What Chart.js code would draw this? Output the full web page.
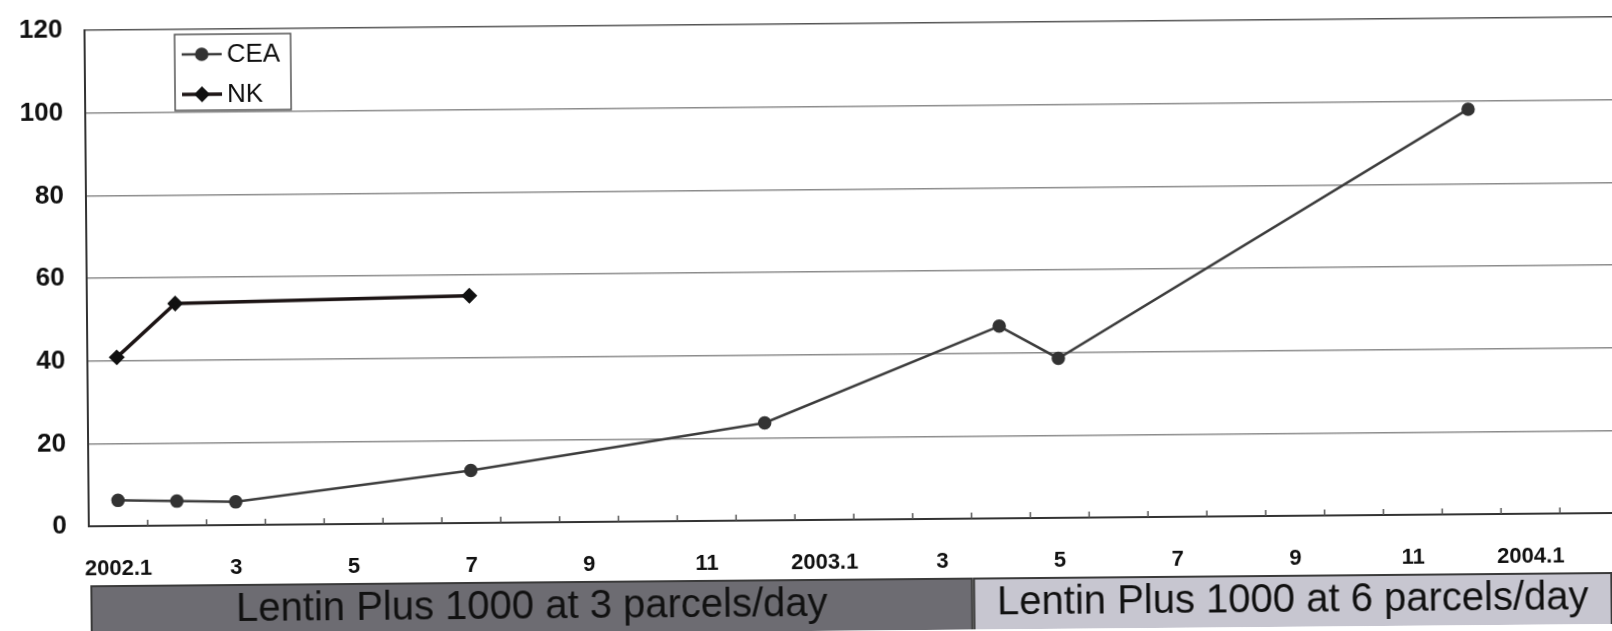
<!DOCTYPE html>
<html>
<head>
<meta charset="utf-8">
<script src="https://cdn.jsdelivr.net/npm/chart.js@4.4.1/dist/chart.umd.min.js"></script>
<style>
  html, body { margin: 0; padding: 0; background: #fff; overflow: hidden; width: 1612px; height: 631px; }
  /* the scanned plot runs a little past the right edge and sits slightly askew */
  #wrap { position: relative; width: 1626px; height: 631px; transform: rotate(-0.5deg); transform-origin: 810px 315px; }
</style>
</head>
<body>
<div id="wrap"><canvas id="cea-nk-chart"></canvas></div>
<script>
// months from 2002.1 to 2004.2, one category each
const months = [
  '2002.1', '2002.2', '2002.3', '2002.4', '2002.5', '2002.6', '2002.7', '2002.8', '2002.9', '2002.10', '2002.11', '2002.12',
  '2003.1', '2003.2', '2003.3', '2003.4', '2003.5', '2003.6', '2003.7', '2003.8', '2003.9', '2003.10', '2003.11', '2003.12',
  '2004.1', '2004.2'
]
// only every second month carries a label
const tickLabels = [
  '2002.1', '', '3', '', '5', '', '7', '', '9', '', '11', '',
  '2003.1', '', '3', '', '5', '', '7', '', '9', '', '11', '',
  '2004.1', ''
]
const ceaValues = [
  6.2, 5.9, 5.6, null, null, null, 12.7, null, null, null, null, 23.6,
  null, null, null, 46.5, 38.6, null, null, null, null, null, null, 98,
  null, null
]
const nkValues = [
  40.8, 53.7, null, null, null, null, 55, null, null, null, null, null,
  null, null, null, null, null, null, null, null, null, null, null, null,
  null, null
]
const yTicks = [0, 20, 40, 60, 80, 100, 120]
const phaseLabels = ['Lentin Plus 1000 at 3 parcels/day', 'Lentin Plus 1000 at 6 parcels/day']
const phaseStart = ['2002.1', '2003.4']
const phaseEnd = ['2003.3', '2004.2']

const fontFamily = '"Liberation Sans", Arial, sans-serif'
const phaseColors = ['#6d6c72', '#c7c6d0']
const visibleWidth = 1612

// inward tick marks on the month boundaries, like the scanned original
const monthTicks = {
  id: 'monthTicks',
  afterDatasetsDraw (chart) {
    const x = chart.scales.x
    const ctx = chart.ctx
    ctx.save()
    ctx.strokeStyle = '#555'
    ctx.lineWidth = 1.5
    for (let i = 1; i < months.length; i++) {
      const px = (x.getPixelForValue(i - 1) + x.getPixelForValue(i)) / 2
      ctx.beginPath()
      ctx.moveTo(px, x.top)
      ctx.lineTo(px, x.top - 6)
      ctx.stroke()
    }
    ctx.restore()
  }
}

// the two treatment bands below the month labels
const phaseBands = {
  id: 'phaseBands',
  afterDraw (chart) {
    const x = chart.scales.x
    const ctx = chart.ctx
    const half = (x.getPixelForValue(1) - x.getPixelForValue(0)) / 2
    ctx.save()
    phaseLabels.forEach((label, i) => {
      const left = x.getPixelForValue(months.indexOf(phaseStart[i])) - half + 2
      const right = Math.min(x.getPixelForValue(months.indexOf(phaseEnd[i])) + half, visibleWidth - 3)
      const top = 580
      const bottom = chart.height + 12
      ctx.fillStyle = phaseColors[i]
      ctx.fillRect(left, top, right - left, bottom - top)
      ctx.strokeStyle = '#3a3a3a'
      ctx.lineWidth = 2
      ctx.strokeRect(left, top, right - left, bottom - top)
      ctx.fillStyle = '#111'
      ctx.font = '40px ' + fontFamily
      ctx.textAlign = 'center'
      ctx.textBaseline = 'middle'
      ctx.fillText(label, (left + right) / 2, 605)
    })
    ctx.restore()
  }
}

// boxed legend inside the plot, top left
const boxLegend = {
  id: 'boxLegend',
  afterDraw (chart) {
    const ctx = chart.ctx
    const box = { x: 177, y: 29, w: 116, h: 76 }
    ctx.save()
    ctx.fillStyle = '#fff'
    ctx.fillRect(box.x, box.y, box.w, box.h)
    ctx.strokeStyle = '#555'
    ctx.lineWidth = 1.5
    ctx.strokeRect(box.x, box.y, box.w, box.h)
    chart.data.datasets.forEach((ds, i) => {
      const y = box.y + 20 + i * 40
      ctx.strokeStyle = ds.borderColor
      ctx.lineWidth = ds.borderWidth
      ctx.beginPath()
      ctx.moveTo(box.x + 7, y)
      ctx.lineTo(box.x + 47, y)
      ctx.stroke()
      ctx.fillStyle = ds.pointBackgroundColor
      ctx.strokeStyle = ds.pointBackgroundColor
      Chart.helpers.drawPoint(ctx, { pointStyle: ds.pointStyle, radius: ds.pointRadius, rotation: 0, borderWidth: 1 }, box.x + 27, y)
      ctx.fillStyle = '#111'
      ctx.font = '26px ' + fontFamily
      ctx.textAlign = 'left'
      ctx.textBaseline = 'middle'
      ctx.fillText(ds.label, box.x + 52, y + 1)
    })
    ctx.restore()
  }
}

const data = {
  labels: months,
  datasets: [
    {
      label: 'CEA',
      data: ceaValues,
      borderColor: '#3c3c3c',
      borderWidth: 2.5,
      pointStyle: 'circle',
      pointRadius: 5.5,
      pointBackgroundColor: '#333',
      pointBorderColor: '#333',
      spanGaps: true,
      tension: 0
    },
    {
      label: 'NK',
      data: nkValues,
      borderColor: '#1c1414',
      borderWidth: 3.5,
      pointStyle: 'rectRot',
      pointRadius: 5.5,
      pointBackgroundColor: '#111',
      pointBorderColor: '#111',
      spanGaps: true,
      tension: 0
    }
  ]
}

const options = {
  responsive: true,
  maintainAspectRatio: false,
  animation: false,
  layout: { padding: { top: 24, left: 0, right: 0, bottom: 0 } },
  scales: {
    x: {
      type: 'category',
      offset: true,
      grid: { display: false, drawTicks: false },
      border: { display: true, color: '#333', width: 2 },
      ticks: {
        autoSkip: false,
        maxRotation: 0,
        padding: 30,
        color: '#111',
        font: { family: fontFamily, size: 22, weight: 'bold' },
        callback: (value, index) => tickLabels[index]
      },
      afterFit (scale) {
        scale.height = 111
        scale.paddingLeft = 0
        scale.paddingRight = 0
      }
    },
    y: {
      min: 0,
      max: 120,
      afterBuildTicks (scale) {
        scale.ticks = yTicks.map(v => ({ value: v }))
      },
      grid: {
        drawTicks: false,
        color: (ctx) => ctx.tick && ctx.tick.value === 120 ? '#555' : '#8c8c8c',
        lineWidth: 1.5
      },
      border: { display: true, color: '#333', width: 2 },
      ticks: {
        padding: 22,
        color: '#111',
        font: { family: fontFamily, size: 26, weight: 'bold' }
      },
      afterFit (scale) {
        scale.width = 87
        scale.paddingTop = 0
        scale.paddingBottom = 0
      }
    }
  },
  plugins: {
    legend: { display: false },
    tooltip: { enabled: false }
  }
}

new Chart(document.getElementById('cea-nk-chart').getContext('2d'), {
  type: 'line',
  data,
  options,
  plugins: [monthTicks, phaseBands, boxLegend]
})
</script>
</body>
</html>
